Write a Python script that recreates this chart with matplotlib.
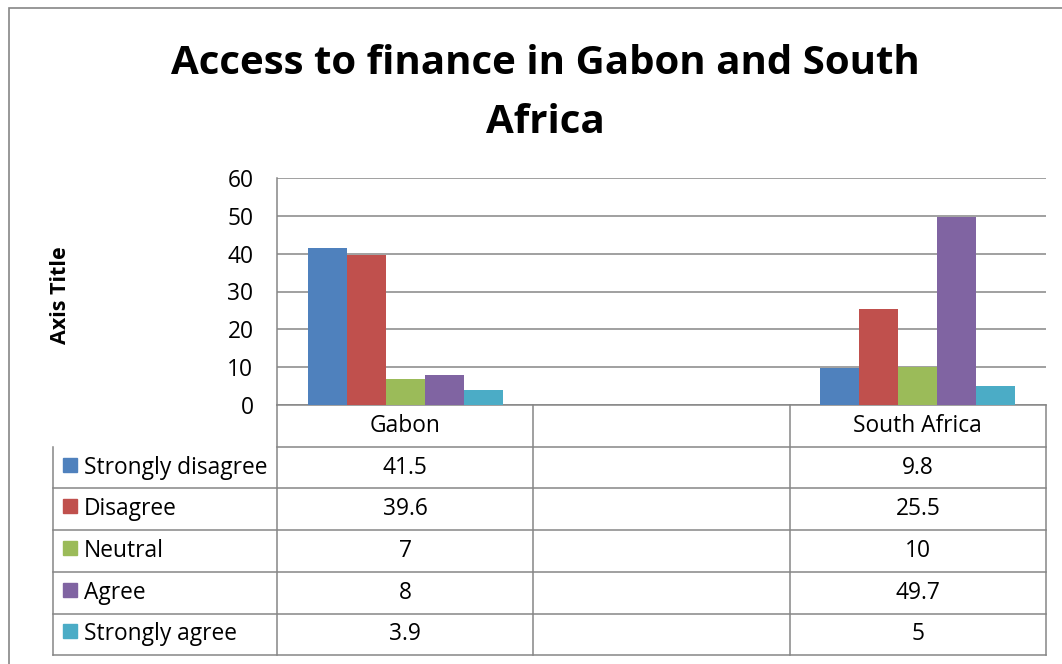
import numpy as np
import matplotlib
matplotlib.use('Agg')
import matplotlib.pyplot as plt
import matplotlib.transforms as mtransforms
from matplotlib.patches import Rectangle

# Survey answers, percent of respondents
categories = ['Gabon', '', 'South Africa']
series = ['Strongly disagree', 'Disagree', 'Neutral', 'Agree', 'Strongly agree']
gabon = [41.5, 39.6, 7, 8, 3.9]
south_africa = [9.8, 25.5, 10, 49.7, 5]
colors = ['#4F81BD', '#C0504D', '#9BBB59', '#8064A2', '#4BACC6']
yticks = [0, 10, 20, 30, 40, 50, 60]

# table columns: one per category, the middle one has no data
table = {'Gabon': gabon, '': [np.nan] * len(series), 'South Africa': south_africa}

plt.rcParams['font.family'] = ['Open Sans', 'DejaVu Sans']
grey = '#868686'
fs = 16.4

fig = plt.figure(figsize=(10.62, 6.64), dpi=100)
W, H = 1062, 664
ax = fig.add_axes([277 / W, 1 - 405 / H, 769 / W, 227 / H])

# outer chart frame (right and bottom edges fall outside the image)
fig.patches.append(Rectangle((9 / W, -0.1), 1.2, 1 - 8 / H + 0.1, transform=fig.transFigure,
                             fill=False, edgecolor=grey, lw=1.2))

w = 0.152
xs = np.arange(len(categories))
for i, name in enumerate(series):
    vals = [table[c][i] for c in categories]
    ax.bar(xs + (i - 2) * w, vals, width=w, color=colors[i], zorder=3, label=name)

ax.set_xlim(-0.5, 2.5)
ax.set_ylim(0, 60)
ax.set_yticks(yticks)
ax.set_yticklabels([str(t) for t in yticks], fontsize=fs)
ax.tick_params(axis='y', length=0, pad=17)
ax.tick_params(axis='x', bottom=False, labelbottom=False)
ax.yaxis.grid(True, color=grey, lw=1.1, zorder=1)
for s in ['top', 'right']:
    ax.spines[s].set_visible(False)
ax.spines['left'].set_color(grey)
ax.spines['bottom'].set_color(grey)
ax.spines['left'].set_linewidth(1.1)
ax.spines['bottom'].set_linewidth(1.1)

ax.set_ylabel('Axis Title', fontsize=15.5, fontweight='bold')
ax.yaxis.set_label_coords(-0.268, 0.482)

# two-line title, each line placed on its own baseline
title_lines = ['Access to finance in Gabon and South', 'Africa']
for txt, base in zip(title_lines, [74, 133]):
    fig.text(0.514, 1 - base / H, txt, ha='center', va='baseline',
             fontsize=29, fontweight='bold')

# data table under the plot: x in category units, y in axes units
trans = mtransforms.blended_transform_factory(ax.transData, ax.transAxes)
row_h = 41.7 / 227
px = 1 / 256.3  # one pixel in category units
left = -0.5 - 224 * px
n = len(series)
bottom = -row_h * (n + 1)

def line(x0, x1, y0, y1):
    ax.plot([x0, x1], [y0, y1], color=grey, lw=1.1, transform=trans, clip_on=False)

# horizontal rules
line(-0.5, 2.5, -row_h, -row_h)
for r in range(1, n + 1):
    line(left, 2.5, -row_h * (r + 1), -row_h * (r + 1))
# vertical rules
line(left, left, -row_h, bottom)
for k in range(len(categories) + 1):
    line(k - 0.5, k - 0.5, 0, bottom)

for k, c in enumerate(categories):
    ax.text(k, -row_h / 2, c, ha='center', va='center', fontsize=fs, transform=trans)
    for r in range(n):
        v = table[c][r]
        if not np.isnan(v):
            ax.text(k, -row_h * (r + 1.5), f'{v:g}', ha='center', va='center',
                    fontsize=fs, transform=trans)

for r, name in enumerate(series):
    yc = -row_h * (r + 1.5)
    ax.add_patch(Rectangle((left + 10 * px, yc - 7 / 227 + 3 / 227), 14 * px, 14 / 227,
                           color=colors[r], transform=trans, clip_on=False))
    ax.text(left + 31 * px, yc, name, ha='left', va='center', fontsize=fs, transform=trans)

fig.savefig('out.png', dpi=100)
